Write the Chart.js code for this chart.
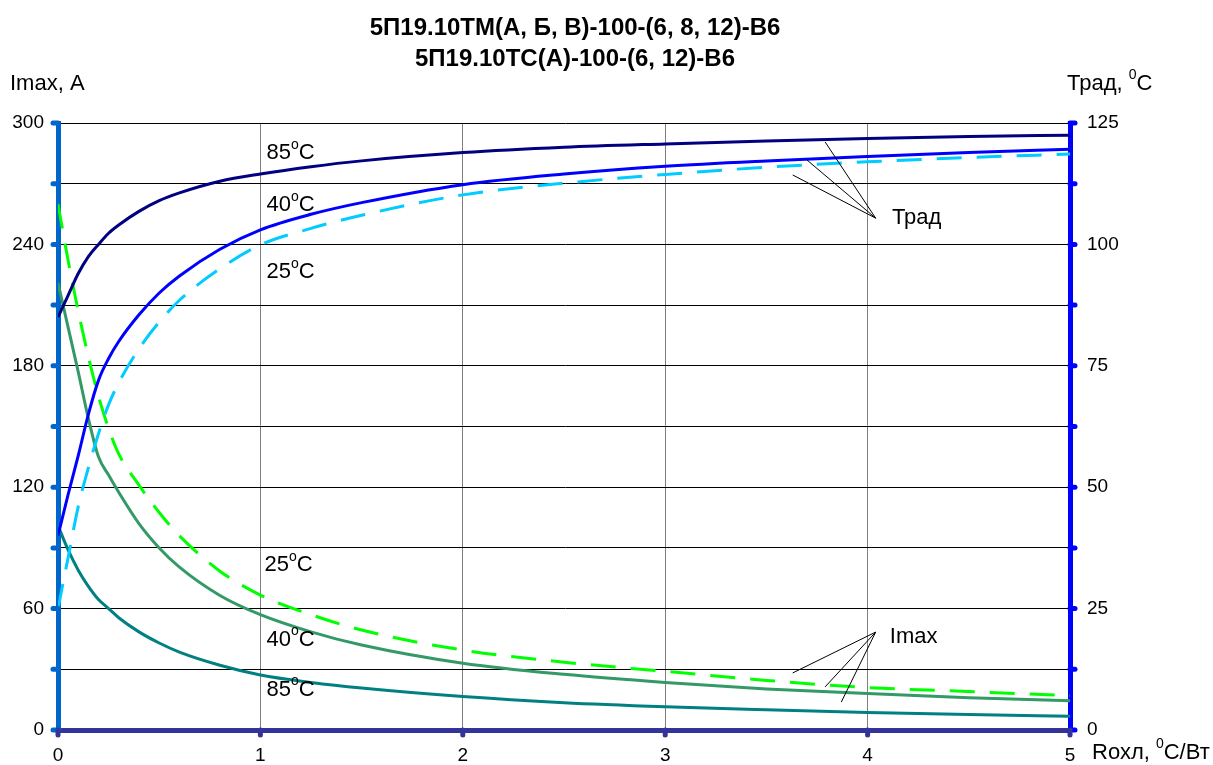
<!DOCTYPE html>
<html>
<head>
<meta charset="utf-8">
<script src="https://cdn.jsdelivr.net/npm/chart.js@4.4.0/dist/chart.umd.min.js"></script>
<style>
  html, body { margin: 0; padding: 0; background: #fff; }
</style>
</head>
<body>
<canvas id="chart" width="1213" height="765"></canvas>
<script>
// Rохл, °C/Вт
const rohl = [0, 0.05, 0.1, 0.15, 0.2, 0.25, 0.3, 0.4, 0.5, 0.6, 0.8, 1, 1.25, 1.5, 2, 2.5, 3, 3.5, 4, 4.5, 5];

// Трад, °C (right axis)
const trad85 = [85, 89.5, 94, 97.5, 100, 102.3, 104, 106.8, 109, 110.6, 113, 114.5, 116, 117.2, 118.9, 120, 120.7, 121.3, 121.8, 122.2, 122.5];
const trad40 = [40, 48.5, 56.5, 65, 72, 76.5, 80, 85.5, 90, 93.5, 99, 103, 106.2, 108.6, 112.3, 114.5, 116.1, 117.2, 118.1, 118.9, 119.6];
const trad25 = [25, 35.5, 46, 54, 61, 67, 71.5, 78.5, 84, 88.5, 95, 99.9, 103.3, 106, 110.2, 112.6, 114.4, 115.9, 117, 117.9, 118.6];

// Imax, A (left axis)
const imax25 = [260, 232, 207, 184.5, 165, 149, 136.5, 121, 107.5, 96, 78.5, 66.7, 57, 49.4, 39.5, 33.5, 29, 24.5, 21, 19, 17];
const imax40 = [221, 199, 177, 154, 135, 126, 117.5, 102, 90, 80.5, 66.5, 57, 48.5, 42, 33, 27.5, 23.5, 20.3, 18, 16, 14.5];
const imax85 = [101, 89, 79, 71, 64.5, 60, 55.5, 48.5, 43, 38.5, 32, 27.2, 23.5, 20.7, 16.5, 13.5, 11.5, 10, 8.7, 7.6, 6.8];

const xTicks = [0, 1, 2, 3, 4, 5];
const imaxTickLabels = [0, 60, 120, 180, 240, 300];
const tradTickLabels = [0, 25, 50, 75, 100, 125];

const FONT = '"Liberation Sans", Arial, sans-serif';

function pts(ys) {
  return rohl.map((x, i) => ({ x: x, y: ys[i] }));
}

function line(ys, color, axis, dashed) {
  return {
    data: pts(ys),
    yAxisID: axis,
    borderColor: color,
    borderWidth: 3,
    borderDash: dashed ? [25, 15] : [],
    pointRadius: 0,
    cubicInterpolationMode: 'monotone',
    fill: false
  };
}

// text with superscript parts: [[text, isSup], ...]
function drawRich(ctx, parts, x, y, size) {
  let cx = x;
  ctx.textBaseline = 'middle';
  ctx.textAlign = 'left';
  parts.forEach(p => {
    if (p[1]) {
      ctx.font = Math.round(size * 0.65) + 'px ' + FONT;
      ctx.fillText(p[0], cx, y - size * 0.38);
    } else {
      ctx.font = size + 'px ' + FONT;
      ctx.fillText(p[0], cx, y);
    }
    cx += ctx.measureText(p[0]).width;
  });
}

const decor = {
  id: 'decor',
  afterDraw(chart) {
    const ctx = chart.ctx;
    const a = chart.chartArea;
    const sx = chart.scales.x, sI = chart.scales.yI, sT = chart.scales.yT;
    ctx.save();
    ctx.fillStyle = '#000';

    // axis dots
    ctx.lineCap = 'round';
    ctx.lineWidth = 5;
    for (let v = 0; v <= 300; v += 30) {
      const y = sI.getPixelForValue(v);
      ctx.strokeStyle = '#0066cc';
      ctx.beginPath(); ctx.moveTo(a.left - 5, y); ctx.lineTo(a.left, y); ctx.stroke();
    }
    for (let v = 0; v <= 125; v += 12.5) {
      const y = sT.getPixelForValue(v);
      ctx.strokeStyle = '#0000ff';
      ctx.beginPath(); ctx.moveTo(a.right, y); ctx.lineTo(a.right + 5, y); ctx.stroke();
    }
    xTicks.forEach(v => {
      const x = sx.getPixelForValue(v);
      ctx.strokeStyle = '#333399';
      ctx.beginPath(); ctx.moveTo(x, a.bottom); ctx.lineTo(x, a.bottom + 5); ctx.stroke();
    });

    // title
    ctx.font = 'bold 24px ' + FONT;
    ctx.textAlign = 'center';
    ctx.textBaseline = 'middle';
    ctx.fillText('5П19.10ТМ(А, Б, В)-100-(6, 8, 12)-В6', 575, 28);
    ctx.fillText('5П19.10ТС(А)-100-(6, 12)-В6', 575, 59);

    // axis titles
    drawRich(ctx, [['Imax, A', false]], 10, 84, 22);
    drawRich(ctx, [['Трад, ', false], ['0', true], ['C', false]], 1067, 84, 22);
    drawRich(ctx, [['Rохл, ', false], ['0', true], ['C/Вт', false]], 1092, 753, 22);

    // curve labels
    const tLab = [['85', 118.8], ['40', 108.1], ['25', 94.3]];
    tLab.forEach(l => drawRich(ctx, [[l[0], false], ['o', true], ['C', false]],
      sx.getPixelForValue(1.03), sT.getPixelForValue(l[1]), 22));
    const iLab = [['25', 1.02, 81.5], ['40', 1.03, 44.5], ['85', 1.03, 19.8]];
    iLab.forEach(l => drawRich(ctx, [[l[0], false], ['o', true], ['C', false]],
      sx.getPixelForValue(l[1]), sI.getPixelForValue(l[2]), 22));

    drawRich(ctx, [['Трад', false]], sx.getPixelForValue(4.12), sT.getPixelForValue(105.4), 22);
    drawRich(ctx, [['Imax', false]], sx.getPixelForValue(4.11), sI.getPixelForValue(46), 22);

    // pointer lines
    ctx.lineCap = 'butt';
    ctx.lineWidth = 1;
    ctx.strokeStyle = '#000';
    const tHub = [4.04, 105.4];
    [[3.79, 121.1], [3.70, 117.4], [3.63, 114.3]].forEach(p => {
      ctx.beginPath();
      ctx.moveTo(sx.getPixelForValue(tHub[0]), sT.getPixelForValue(tHub[1]));
      ctx.lineTo(sx.getPixelForValue(p[0]), sT.getPixelForValue(p[1]));
      ctx.stroke();
    });
    const iHub = [4.04, 48.4];
    [[3.63, 28.2], [3.79, 21.3], [3.87, 13.8]].forEach(p => {
      ctx.beginPath();
      ctx.moveTo(sx.getPixelForValue(iHub[0]), sI.getPixelForValue(iHub[1]));
      ctx.lineTo(sx.getPixelForValue(p[0]), sI.getPixelForValue(p[1]));
      ctx.stroke();
    });
    ctx.restore();
  }
};

const ctx = document.getElementById('chart').getContext('2d');
const chart = new Chart(ctx, {
  type: 'line',
  data: {
    datasets: [
      line(trad85, '#000080', 'yT', false),
      line(trad40, '#0000ff', 'yT', false),
      line(trad25, '#00ccff', 'yT', true),
      line(imax25, '#00ff00', 'yI', true),
      line(imax40, '#339966', 'yI', false),
      line(imax85, '#008080', 'yI', false)
    ]
  },
  options: {
    responsive: false,
    animation: false,
    layout: { padding: { top: 123, left: 0, right: 0, bottom: 0 } },
    plugins: { legend: { display: false }, tooltip: { enabled: false }, title: { display: false } },
    scales: {
      x: {
        type: 'linear', min: 0, max: 5,
        ticks: { stepSize: 1, color: '#000', font: { family: FONT, size: 19 }, padding: 14 },
        grid: { color: '#808080', lineWidth: 1, drawTicks: false },
        border: { color: '#333399', width: 5 },
        afterFit: s => { s.height = 35; }
      },
      yI: {
        position: 'left', min: 0, max: 300,
        ticks: {
          stepSize: 30, autoSkip: false, color: '#000', padding: 14,
          font: { family: FONT, size: 19 },
          callback: v => imaxTickLabels.includes(v) ? v : ''
        },
        grid: { color: '#000', lineWidth: 1, drawTicks: false },
        border: { color: '#0066cc', width: 5 },
        afterFit: s => { s.width = 58; }
      },
      yT: {
        position: 'right', min: 0, max: 125,
        ticks: {
          stepSize: 12.5, autoSkip: false, color: '#000', padding: 17,
          font: { family: FONT, size: 19 },
          callback: v => tradTickLabels.includes(v) ? v : ''
        },
        grid: { drawOnChartArea: false, drawTicks: false },
        border: { color: '#0000ff', width: 5 },
        afterFit: s => { s.width = 143; }
      }
    }
  },
  plugins: [decor]
});
</script>
</body>
</html>
